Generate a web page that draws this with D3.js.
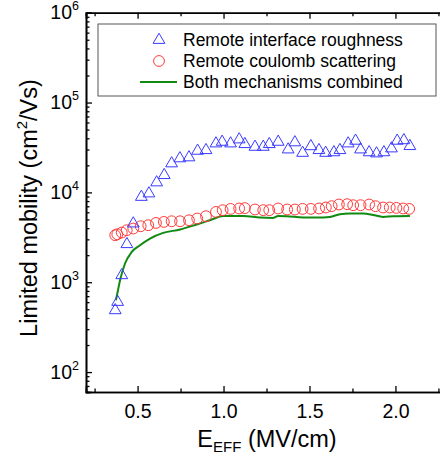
<!DOCTYPE html>
<html>
<head>
<meta charset="utf-8">
<script src="https://cdn.jsdelivr.net/npm/d3@7"></script>
<style>
  body { margin: 0; background: #fff; }
  svg { display: block; font-family: 'Liberation Sans', Arial, sans-serif; }
</style>
</head>
<body>
<div id="chart"></div>
<script>
// data
let roughField = [0.370, 0.384, 0.408, 0.438, 0.475, 0.522, 0.566, 0.611, 0.655, 0.698, 0.746, 0.799, 0.849, 0.898, 0.956, 0.992, 1.041, 1.091, 1.124, 1.183, 1.231, 1.266, 1.318, 1.376, 1.415, 1.460, 1.508, 1.555, 1.594, 1.642, 1.677, 1.725, 1.768, 1.797, 1.847, 1.890, 1.933, 1.977, 2.010, 2.049, 2.084]
let roughMobility = [487, 603, 1195, 2650, 4500, 8900, 9720, 12900, 15550, 21000, 23900, 24500, 29000, 29500, 35000, 36500, 35000, 38800, 34400, 32100, 32100, 34400, 36500, 30000, 36000, 27500, 32600, 29500, 27500, 27900, 29500, 35000, 37500, 30000, 27900, 27100, 27900, 30800, 37500, 38000, 32700]

let coulombField = [0.370, 0.382, 0.408, 0.437, 0.475, 0.518, 0.562, 0.607, 0.653, 0.698, 0.747, 0.799, 0.847, 0.898, 0.956, 0.995, 1.041, 1.091, 1.124, 1.183, 1.231, 1.266, 1.318, 1.370, 1.415, 1.460, 1.508, 1.556, 1.595, 1.629, 1.671, 1.719, 1.754, 1.797, 1.847, 1.884, 1.928, 1.967, 2.006, 2.045, 2.080]
let coulombMobility = [3335, 3420, 3570, 3790, 3960, 4200, 4310, 4570, 4690, 4770, 4770, 4900, 5120, 5430, 6060, 6330, 6550, 6620, 6680, 6450, 6340, 6340, 6620, 6450, 6450, 6550, 6550, 6620, 6790, 7020, 7330, 7390, 7200, 7200, 7330, 7020, 6790, 6790, 6720, 6620, 6550]

let combinedField = [0.374, 0.386, 0.398, 0.427, 0.466, 0.514, 0.572, 0.649, 0.747, 0.844, 0.921, 0.998, 1.115, 1.212, 1.289, 1.318, 1.367, 1.463, 1.541, 1.619, 1.677, 1.735, 1.812, 1.870, 1.928, 1.987, 2.084]
let combinedMobility = [630, 813, 1050, 1615, 2175, 2580, 3065, 3540, 3860, 4390, 4900, 5470, 5470, 5250, 5200, 5450, 5430, 5250, 5250, 5330, 5720, 5820, 5820, 5610, 5330, 5430, 5470]

let xMajor = [0.5, 1.0, 1.5, 2.0]
let xMinor = [0.25, 0.75, 1.25, 1.75, 2.25]
let yExponents = [2, 3, 4, 5, 6]
let legendLabels = ['Remote interface roughness', 'Remote coulomb scattering', 'Both mechanisms combined']

let width = 440
let height = 466
let margin = { top: 12.7, left: 86, right: -1, bottom: 74 }

let svg = d3
  .select('#chart')
  .append('svg')
  .attr('width', width)
  .attr('height', height)

// scales
let xScale = d3
  .scaleLinear()
  .domain([0.2, 2.265])
  .range([margin.left, width - margin.right])

let yScale = d3
  .scaleLog()
  .domain([60, 1e6])
  .range([height - margin.bottom, margin.top])

let blue = '#3a3aff'
let red = '#ff3a3a'
let green = '#118a11'

// minor ticks for the log axis, 2..9 of each decade
let yMinor = []
for (let e = 1; e <= 5; e++) {
  for (let k = 2; k <= 9; k++) {
    let v = k * Math.pow(10, e)
    if (v >= 60 && v < 1e6) yMinor.push(v)
  }
}

let plotBottom = height - margin.bottom

// axes, ticks pointing inward
let axes = svg.append('g').attr('class', 'axes')

axes.append('g')
  .attr('transform', `translate(0,${plotBottom})`)
  .call(d3.axisBottom(xScale).tickValues(xMinor).tickSize(-3.5).tickFormat(''))
axes.append('g')
  .attr('transform', `translate(0,${plotBottom})`)
  .call(d3.axisBottom(xScale).tickValues(xMajor).tickSize(-6).tickPadding(12).tickFormat(d3.format('.1f')))
axes.append('g')
  .attr('transform', `translate(0,${margin.top})`)
  .call(d3.axisTop(xScale).tickValues(xMinor).tickSize(-3.5).tickFormat(''))
axes.append('g')
  .attr('transform', `translate(0,${margin.top})`)
  .call(d3.axisTop(xScale).tickValues(xMajor).tickSize(-6).tickFormat(''))
axes.append('g')
  .attr('transform', `translate(${margin.left},0)`)
  .call(d3.axisLeft(yScale).tickValues(yMinor).tickSize(-3.5).tickFormat(''))
axes.append('g')
  .attr('transform', `translate(${margin.left},0)`)
  .call(d3.axisLeft(yScale).tickValues(yExponents.map(e => Math.pow(10, e))).tickSize(-6).tickFormat(''))

axes.selectAll('.domain').attr('stroke', '#000').attr('stroke-width', 1.6)
axes.selectAll('.tick line').attr('stroke', '#000').attr('stroke-width', 1.3)
axes.selectAll('.tick text')
  .attr('font-size', 19.5)
  .attr('font-family', "'Liberation Sans', Arial, sans-serif")
  .attr('fill', '#000')

// y tick labels as 10 with a raised exponent
let yLabels = svg.append('g')
  .selectAll('.y-label')
  .data(yExponents)
  .enter()
  .append('text')
  .attr('class', 'y-label')
  .attr('x', 79)
  .attr('y', d => yScale(Math.pow(10, d)) + 6.5)
  .attr('text-anchor', 'end')
  .attr('font-size', 19.5)
  .attr('fill', '#000')

yLabels.append('tspan').text('10')
yLabels.append('tspan')
  .attr('dy', -9)
  .attr('font-size', 12.5)
  .text(d => d)

// axis titles
let xTitle = svg.append('text')
  .attr('x', (margin.left + width) / 2 + 4)
  .attr('y', 447)
  .attr('text-anchor', 'middle')
  .attr('font-size', 23.5)
  .attr('fill', '#000')
xTitle.append('tspan').text('E')
xTitle.append('tspan').attr('font-size', 15).attr('dy', 5).text('EFF')
xTitle.append('tspan').attr('dy', -5).text(' (MV/cm)')

let yTitle = svg.append('text')
  .attr('transform', 'translate(37,208) rotate(-90)')
  .attr('text-anchor', 'middle')
  .attr('font-size', 23.5)
  .attr('fill', '#000')
yTitle.append('tspan').text('Limited mobility (cm')
yTitle.append('tspan').attr('font-size', 15).attr('dy', -10).text('2')
yTitle.append('tspan').attr('dy', 10).text('/Vs)')

// combined line
let line = d3.line()
  .x(d => xScale(d[0]))
  .y(d => yScale(d[1]))
  .curve(d3.curveMonotoneX)

svg.append('path')
  .datum(d3.zip(combinedField, combinedMobility))
  .attr('d', line)
  .attr('fill', 'none')
  .attr('stroke', green)
  .attr('stroke-width', 2)

// coulomb circles
svg.selectAll('.coulomb')
  .data(d3.zip(coulombField, coulombMobility))
  .enter()
  .append('circle')
  .attr('class', 'coulomb')
  .attr('cx', d => xScale(d[0]))
  .attr('cy', d => yScale(d[1]))
  .attr('r', 5.4)
  .attr('fill', 'none')
  .attr('stroke', red)
  .attr('stroke-width', 1)

// roughness triangles
let triangle = d3.symbol().type(d3.symbolTriangle).size(60)

svg.selectAll('.rough')
  .data(d3.zip(roughField, roughMobility))
  .enter()
  .append('path')
  .attr('class', 'rough')
  .attr('d', triangle)
  .attr('transform', d => `translate(${xScale(d[0])},${yScale(d[1])})`)
  .attr('fill', 'none')
  .attr('stroke', blue)
  .attr('stroke-width', 1)

// legend
let legend = svg.append('g').attr('transform', 'translate(98,24)')

legend.append('rect')
  .attr('width', 338)
  .attr('height', 72)
  .attr('fill', '#fff')
  .attr('stroke', '#555')
  .attr('stroke-width', 1)

legend.selectAll('.legend-entry')
  .data(legendLabels)
  .enter()
  .append('g')
  .attr('class', 'legend-entry')
  .attr('transform', (d, i) => `translate(0,${16 + i * 21})`)
  .each(function(d, i) {
    let g = d3.select(this)
    if (i === 0) {
      g.append('path').attr('d', triangle).attr('transform', 'translate(61,0)')
        .attr('fill', 'none').attr('stroke', blue)
    } else if (i === 1) {
      g.append('circle').attr('cx', 61).attr('r', 5.4)
        .attr('fill', 'none').attr('stroke', red)
    } else {
      g.append('line').attr('x1', 42).attr('x2', 79)
        .attr('stroke', green).attr('stroke-width', 2)
    }
    g.append('text')
      .text(d)
      .attr('x', 85)
      .attr('y', 6)
      .attr('font-size', 17.5)
      .attr('fill', '#000')
  })
</script>
</body>
</html>
